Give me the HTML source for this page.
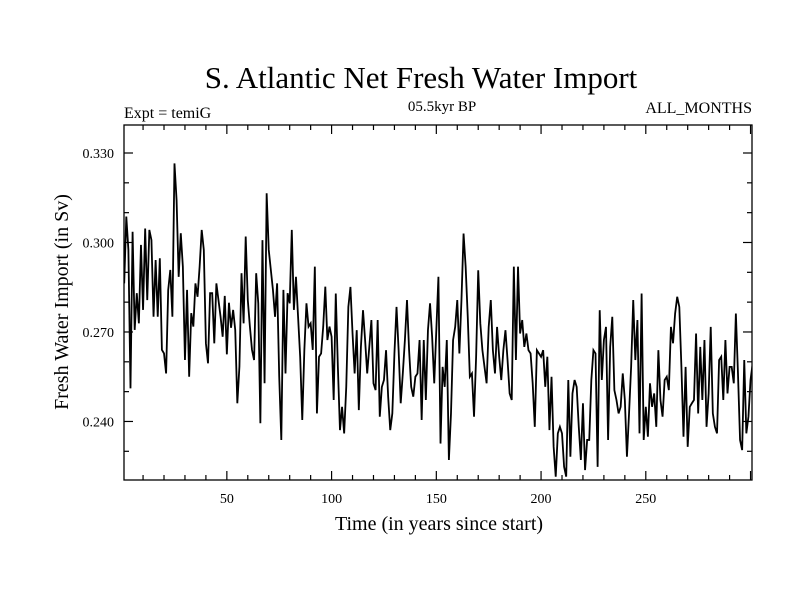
<!DOCTYPE html>
<html><head><meta charset="utf-8"><style>
body{margin:0;background:#fff}
svg{display:block;font-family:"Liberation Serif",serif}
</style></head><body>
<svg id="chart" width="800" height="600" viewBox="0 0 800 600">
<text x="421" y="88" font-size="31" text-anchor="middle">S. Atlantic Net Fresh Water Import</text>
<text x="124" y="118" font-size="16">Expt = temiG</text>
<text x="442" y="111" font-size="15" text-anchor="middle">05.5kyr BP</text>
<text x="752" y="113" font-size="16" text-anchor="end">ALL_MONTHS</text>
<text x="439" y="530" font-size="20" text-anchor="middle">Time (in years since start)</text>
<text transform="translate(68,302) rotate(-90)" font-size="20" text-anchor="middle">Fresh Water Import (in Sv)</text>
<defs><clipPath id="clip"><rect x="124" y="125" width="628" height="355"/></clipPath></defs>
<g id="ticks"></g>
<path id="series" fill="none" stroke="#000" stroke-width="1.8" clip-path="url(#clip)"/>
<rect x="124" y="125" width="628" height="355" fill="none" stroke="#000" stroke-width="1.3"/>
</svg>
<script>
const seg1=[286.3,308.7,297.5,251.1,303.6,270.7,283,272.9,299.2,277.4,304.7,280.7,304.2,300.8,275.1,294.1,275.1,294.7,264,262.8,256.1,284.1,290.8,275.1,326.5,314.2,288.5,303.1,291.9,260.6,284.1,255,276.3,271.8,286.3,281.8,291.9,304.2,297.5,266.2,259.5,283,283,266.2,286.3,280.7,275.1,268.4,282.1,262.5,279.8,271.4];
const seg2=[277.4,270.7,246.1,258.4,289.7,272.9,302,280.7,271.8,264,260.6,289.7,279.6,239.4,300.8,252.8,316.5,297.5,290.8,284.1,275.1,286.3,255,233.8,284.1,256.1,283,279.6,304.2,277.4,288.5,275.1,261.7,240.5,264,279.6,271.8,272.9,264,291.9,242.7,261.7,262.8,271.8,285.2,267.3,271.8,268.4];
const seg3=[247.2,282.9,258.3,237.1,244.9,236,251.6,278.4,285.1,269.5,256.1,270.6,243.8,265,277.3,267.3,256.1,265,274,252.8,250.5,274,241.6,251.6,253.9,263.9,248.3,237.1,242.7,262.8,278.4,263.9,246.1,256.1,267.3,280.7,263.9,251.6,248.3,255,256.1,267.3,240.5,267.3,247.2,270.6,279.6,268.4,252.8,270.6,288.5,232.6];
const seg4=[258.3,251.6,267.3,227.1,242.7,267.3,271.7,280.7,262.8,280.7,303,291.9,275.1,255,256.1,241.6,261.7,290.7,272.9,263.9,258.3,252.8,271.7,280.7,263.9,256.1,271.7,261.7,253.9,263.9,270.6,260.6,249.4,247.2,291.9,260.6,291.9,269.5,274,265,269.5,263.9,262.8,252.8,238.2,263.9,262.8];
const seg5=[261.7,263.9,251.6,261.7,237.1,255,231.5,221.5,236,238.2,236,224.8,221.5,253.9,228.2,249.4,253.9,251.6,238.2,227.1,246.1,223.7,233.8,233.8,253.9,263.9,262.8,224.8,277.3,253.9,267.3,271.7,233.8,265,275.1,250.5,247.2,242.7,244.9,256.1,247.2,228.2,242.7,258.3,280.7,260.6,274,236,282.9,233.8];
const seg6=[244.9,234.9,252.8,244.9,249.4,238.2,263.9,247.2,241.6,253.9,255,250.5,271.7,266.2,276.2,281.8,278.4,258.3,234.9,258.3,231.5,244.9,246.1,247.2,269.5,242.7,265,247.2,267.3,238.2,249.4,271.7,242.7,238.2,236,260.6,261.7,247.2,267.3,249.4,258.3,258.3,252.8,276.2,256.1,233.8,230.4,260.6,236,241.6,253.9,259.4];
const values=[].concat(seg1,seg2,seg3,seg4,seg5,seg6).map(v=>v/1000);
const yTickValues=[0.240,0.270,0.300,0.330];
const yTickLabels=["0.240","0.270","0.300","0.330"];
const xTickValues=[50,100,150,200,250];
const xTickLabels=["50","100","150","200","250"];
const X0=124,X1=752,Y0=125,Y1=480;
const xMin=0.9,xMax=300.7;
function xScale(v){return X0+(v-xMin)/(xMax-xMin)*(X1-X0);}
function yScale(v){return 153+(0.330-v)*2983;}
const svg=document.getElementById('chart');
const ns='http://www.w3.org/2000/svg';
let d='';
values.forEach((v,i)=>{d+=(i?'L':'M')+xScale(i+1).toFixed(2)+','+yScale(v).toFixed(2);});
document.getElementById('series').setAttribute('d',d);
const tg=document.getElementById('ticks');
function line(x1,y1,x2,y2){const l=document.createElementNS(ns,'line');l.setAttribute('x1',x1);l.setAttribute('y1',y1);l.setAttribute('x2',x2);l.setAttribute('y2',y2);l.setAttribute('stroke','#000');l.setAttribute('stroke-width','1.2');


tg.appendChild(l);}
for(let k=0;k<12;k++){const v=0.220+k*0.010;const y=yScale(v);if(y<Y0||y>Y1)continue;const major=Math.abs(((v-0.240)/0.03)-Math.round((v-0.240)/0.03))<1e-6;const L=major?9:5;line(X0,y,X0+L,y);line(X1,y,X1-L,y);}
for(let yr=10;yr<=300;yr+=10){const x=xScale(yr);if(x>X1)continue;const L=yr%50===0?9:5;line(x,Y1,x,Y1-L);line(x,Y0,x,Y0+L);}
yTickValues.forEach((v,i)=>{const t=document.createElementNS(ns,'text');t.setAttribute('x',114);t.setAttribute('y',yScale(v)+5);t.setAttribute('font-size','14');t.setAttribute('text-anchor','end');t.textContent=yTickLabels[i];


svg.appendChild(t);});
xTickValues.forEach((v,i)=>{const t=document.createElementNS(ns,'text');t.setAttribute('x',xScale(v));t.setAttribute('y',503);t.setAttribute('font-size','14');t.setAttribute('text-anchor','middle');t.textContent=xTickLabels[i];


svg.appendChild(t);});
</script>
</body></html>
